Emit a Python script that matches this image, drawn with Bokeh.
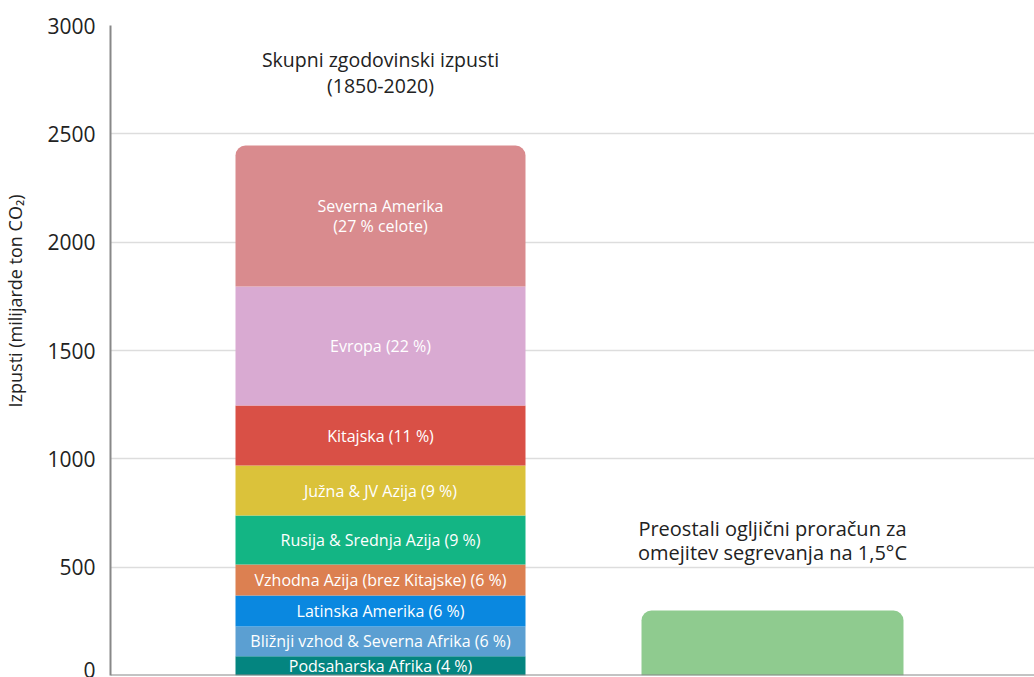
from bokeh.plotting import figure
from bokeh.models import Range1d, ColumnDataSource, Label, Span, FixedTicker
from bokeh.embed import file_html
from bokeh.resources import INLINE
from bokeh.core.properties import value
import numpy as np

FONT = "Open Sans"

regions = ["Podsaharska Afrika (4 %)", "Bližnji vzhod & Severna Afrika (6 %)",
           "Latinska Amerika (6 %)", "Vzhodna Azija (brez Kitajske) (6 %)",
           "Rusija & Srednja Azija (9 %)", "Južna & JV Azija (9 %)",
           "Kitajska (11 %)", "Evropa (22 %)", "Severna Amerika\n(27 % celote)"]
emissions = [89, 137, 143, 143, 226, 231, 277, 549, 651]
colors = ["#048580", "#5b9fd2", "#0a88e0", "#dc8051", "#13b584",
          "#dbc23a", "#d95046", "#d9aad2", "#d98b8e"]
remaining_budget = [300]
yticks = [0, 500, 1000, 1500, 2000, 2500, 3000]

tops = np.cumsum(emissions)
bottoms = tops - np.array(emissions)
mids = (tops + bottoms) / 2

p = figure(width=1034, height=677, output_backend="svg", toolbar_location=None,
           x_range=Range1d(0, 924), y_range=Range1d(0, 3000),
           min_border_left=110, min_border_right=0, min_border_top=25,
           min_border_bottom=2)
p.outline_line_color = None
p.xaxis.visible = False
p.xgrid.grid_line_color = None
p.ygrid.grid_line_color = "#dddddd"
p.ygrid.grid_line_width = 1.5
p.yaxis.ticker = FixedTicker(ticks=yticks)
p.yaxis.axis_line_color = "#888888"
p.yaxis.axis_line_width = 2
p.yaxis.major_tick_line_color = None
p.yaxis.minor_tick_line_color = None
p.yaxis.major_label_text_font = FONT
p.yaxis.major_label_text_font_size = "21px"
p.yaxis.major_label_text_color = "#222222"
p.yaxis.major_label_standoff = 9
p.yaxis.axis_label = "\u2002" * 11 + "Izpusti (milijarde ton CO₂)"
p.yaxis.axis_label_text_font = FONT
p.yaxis.axis_label_text_font_size = "18px"
p.yaxis.axis_label_text_font_style = "normal"
p.yaxis.axis_label_text_color = "#222222"
p.yaxis.axis_label_standoff = 17

src = ColumnDataSource(dict(bottom=bottoms[:-1], top=tops[:-1], color=colors[:-1]))
p.vbar(x=270, width=290, bottom="bottom", top="top", fill_color="color",
       line_color=None, source=src)
p.vbar(x=[270], width=290, bottom=[bottoms[-1]], top=[tops[-1]],
       fill_color=colors[-1], line_color=None, border_radius=(10, 10, 0, 0))
p.vbar(x=[662], width=262, bottom=[0], top=remaining_budget,
       fill_color="#8fcb8f", line_color=None, border_radius=(10, 10, 0, 0))

lsrc = ColumnDataSource(dict(x=[270] * len(regions), y=mids, text=regions))
p.text(x="x", y="y", text="text", source=lsrc, text_color="white",
       text_font=value(FONT), text_font_size="16px", text_align="center",
       text_baseline="middle", text_line_height=0.92)

p.add_layout(Span(location=0, dimension="width", line_color="#888888", line_width=2))

p.add_layout(Label(x=270, y=2783, text="Skupni zgodovinski izpusti\n(1850-2020)",
                   text_font=FONT, text_font_size="19.5px", text_color="#222222",
                   text_align="center", text_baseline="middle", text_line_height=0.94))
p.add_layout(Label(x=662, y=623,
                   text="Preostali ogljični proračun za\nomejitev segrevanja na 1,5°C",
                   text_font=FONT, text_font_size="20px", text_color="#222222",
                   text_align="center", text_baseline="middle", text_line_height=0.92))

open("out.html", "w").write(file_html(p, INLINE))
